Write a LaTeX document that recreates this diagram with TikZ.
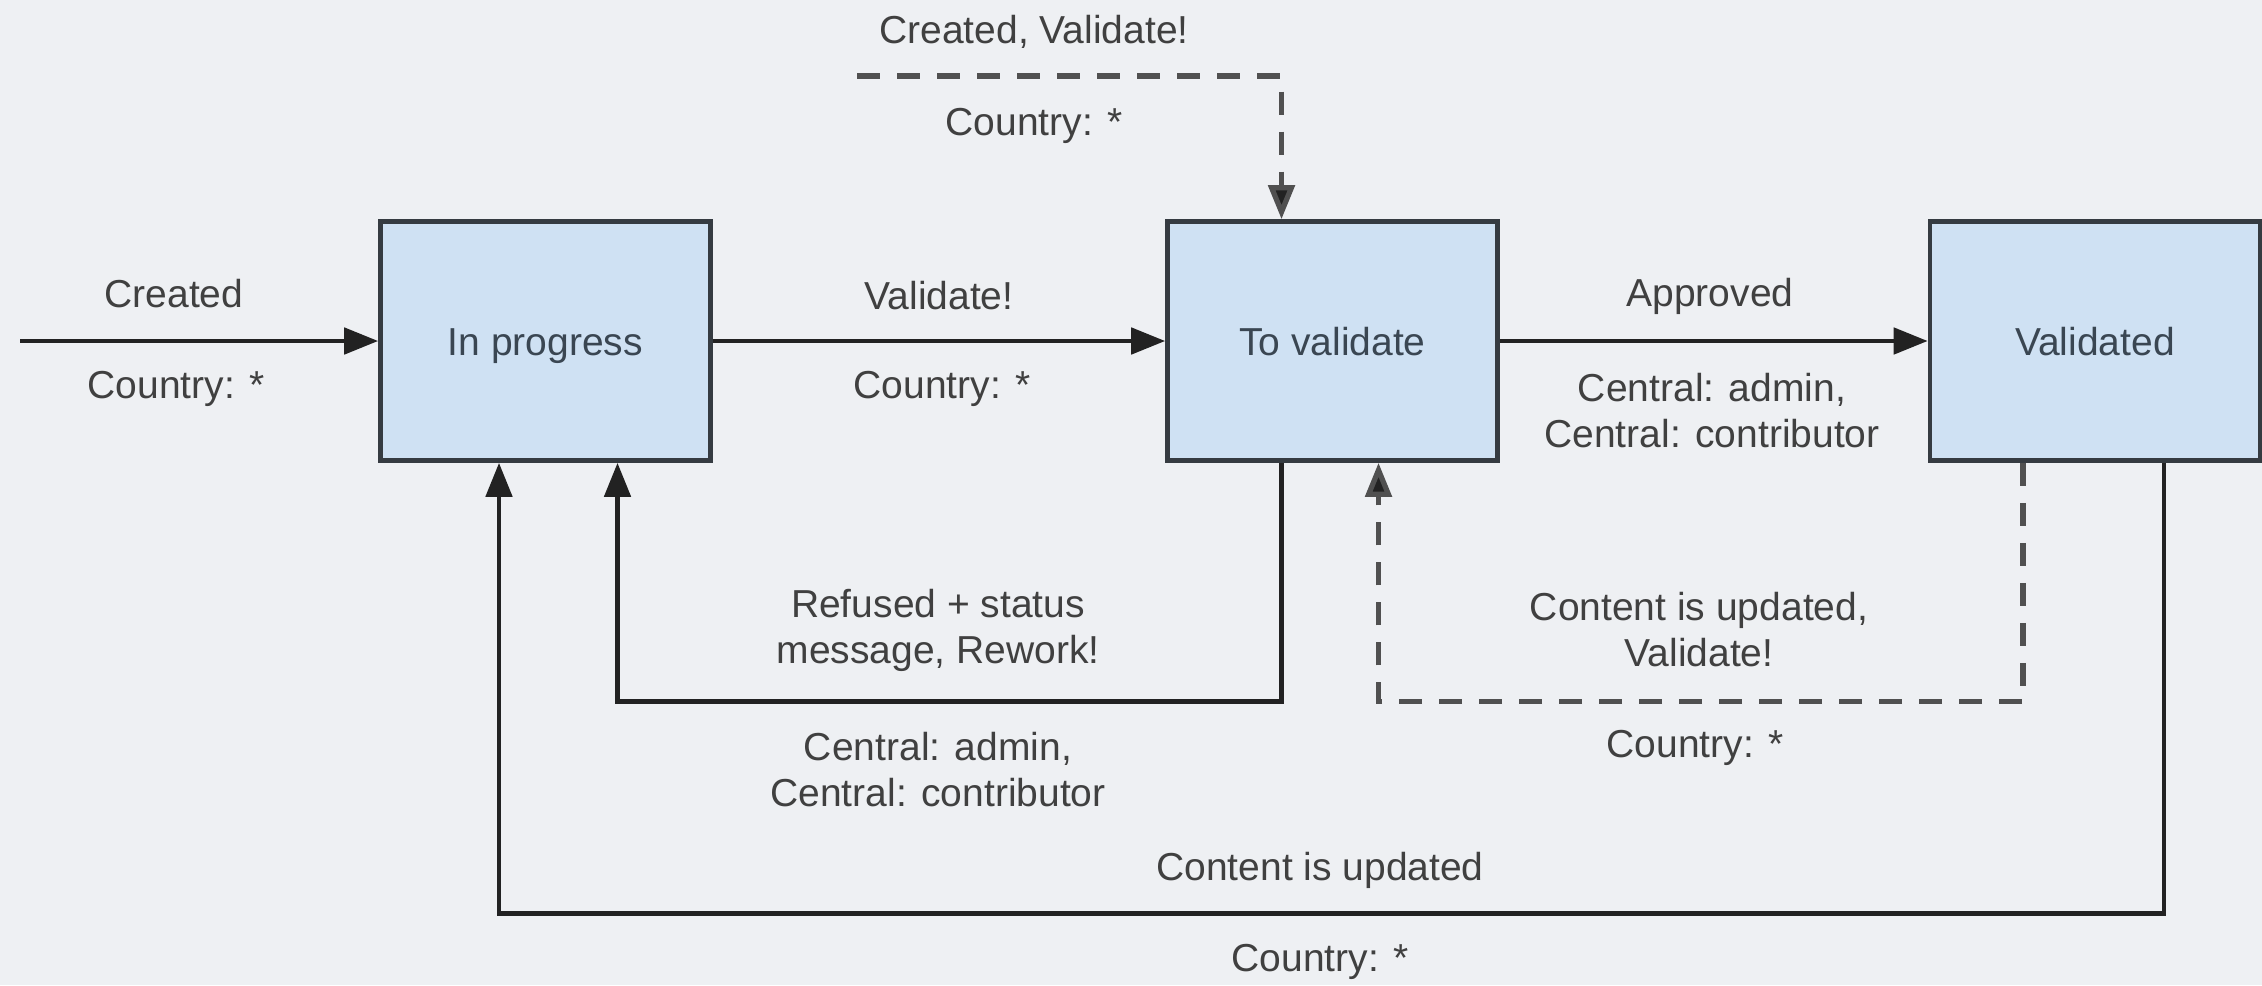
\documentclass[tikz,border=0pt]{standalone}
\usepackage{fontspec}
\setmainfont{Liberation Sans}
\usetikzlibrary{arrows.meta,calc}
\definecolor{bgc}{HTML}{EEF0F3}
\definecolor{boxfill}{HTML}{CFE1F3}
\definecolor{boxline}{HTML}{353B41}
\definecolor{boxtext}{HTML}{3A4652}
\definecolor{lbltext}{HTML}{404040}
\definecolor{linec}{HTML}{222222}
\definecolor{dashc}{HTML}{505050}
\tikzset{
  state/.style={draw=boxline, line width=2.3pt, fill=boxfill, text=boxtext,
    minimum width=165pt, minimum height=119.5pt, inner sep=0pt,
    text height=14pt, text depth=0pt,
    font=\fontsize{19.5}{23}\selectfont},
  lbl/.style={text=lbltext, align=center, inner sep=0pt,
    font=\fontsize{19.5}{23}\selectfont},
  conn/.style={draw=linec, line width=2.4pt,
    -{Triangle[length=17pt,width=13pt]}},
  dconn/.style={draw=dashc, line width=2.6pt, dash pattern=on 11.5pt off 8.5pt,
    -{Triangle[length=17pt,width=13pt,fill=linec]}}
}
\begin{document}
\begin{tikzpicture}[x=0.5pt,y=-0.5pt]
  % canvas
  \fill[bgc] (0,0) rectangle (2262,985);
  \useasboundingbox (0,0) rectangle (2262,985);

  % states
  \node[state] (ip) at (545.5,341) {In progress};
  \node[state] (tv) at (1332.5,341) {To validate};
  \node[state] (vd) at (2095,341) {Validated};

  % entry point
  \coordinate (entry) at (20,341);
  \coordinate (cvs) at (857,76);

  % forward transitions
  \draw[conn] (entry) -- (ip.west);
  \draw[conn] (ip.east) -- (tv.west);
  \draw[conn] (tv.east) -- (vd.west);

  % direct creation for validation
  \draw[dconn] (cvs) -| ($(tv.north)+(-51,0)$);

  % refusal back to work
  \draw[conn] ($(tv.south)+(-51,0)$) -- ++(0,239) -| ($(ip.south)+(72,0)$);

  % update of validated content, sent to validation
  \draw[dconn] ($(vd.south)+(-72,0)$) -- ++(0,239) -| ($(tv.south)+(46,0)$);

  % update of validated content, back to work
  \draw[conn] ($(vd.south)+(69,0)$) -- ++(0,451) -| ($(ip.south)+(-46.5,0)$);

  % labels
  \node[lbl] (l1a) at (174,294) {Created};
  \node[lbl] (l1b) at (176,389) {Country: *};
  \node[lbl] (l2a) at (939,296) {Validate!};
  \node[lbl] (l2b) at (942,389) {Country: *};
  \node[lbl] (l3a) at (1710,296) {Approved};
  \node[lbl] (l3b) at (1712,411) {Central: admin,\\Central: contributor};
  \node[lbl] (l4a) at (1034,32) {Created, Validate!};
  \node[lbl] (l4b) at (1034,126) {Country: *};
  \node[lbl] (l5a) at (938,630) {Refused + status\\message, Rework!};
  \node[lbl] (l5b) at (938,770) {Central: admin,\\Central: contributor};
  \node[lbl] (l6a) at (1699,630) {Content is updated,\\Validate!};
  \node[lbl] (l6b) at (1695,748) {Country: *};
  \node[lbl] (l7a) at (1320,870) {Content is updated};
  \node[lbl] (l7b) at (1320,962) {Country: *};
\end{tikzpicture}
\end{document}
